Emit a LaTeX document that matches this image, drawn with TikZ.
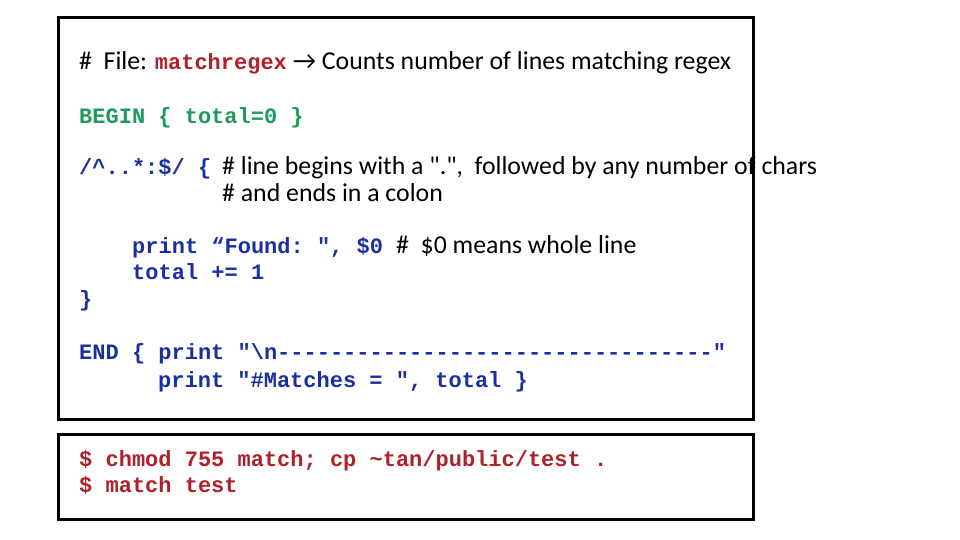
\documentclass[tikz,border=0pt]{standalone}
\usepackage{fontspec}
\setmainfont{Carlito}
\setmonofont{Liberation Mono}
\definecolor{cgreen}{HTML}{1E9A5A}
\definecolor{cblue}{HTML}{1A2FA0}
\definecolor{cred}{HTML}{B0202A}
\begin{document}
\begin{tikzpicture}[x=1bp,y=-1bp,
  t/.style={anchor=base west,inner sep=0pt,font=\fontsize{25.8bp}{30bp}\selectfont},
  m/.style={anchor=base west,inner sep=0pt,font=\fontsize{22bp}{26bp}\selectfont\ttfamily\bfseries},
  box/.style={draw,line width=3bp}]
\useasboundingbox (0,0) rectangle (960,540);
\draw[box] (58,18) rectangle (753,419);
\draw[box] (58,434) rectangle (753,519);
\node[t] (h) at (79,70) {\#\ \ File: {\fontsize{22bp}{26bp}\selectfont\ttfamily\bfseries\color{cred}matchregex} → Counts number of lines matching regex};
\node[m,cgreen] (b) at (79,124) {BEGIN \{ total=0 \}};
\node[m,cblue] (r) at (79,175) {/\textasciicircum..*:\$/ \{};
\node[t] (c1) at (222,175) {\# line begins with a \textquotedbl.\textquotedbl,\ \ followed by any number of chars};
\node[t] (c2) at (222,202) {\# and ends in a colon};
\node[m,cblue] (p) at (132,254) {print “Found: ", \$0};
\node[t] (c3) at (396,254) {\#\ \ \$0 means whole line};
\node[m,cblue] (tt) at (132,280) {total += 1};
\node[m,cblue] (cb) at (79,307) {\}};
\node[m,cblue] (e1) at (79,360) {END \{ print "\textbackslash n---------------------------------"};
\node[m,cblue] (e2) at (158,387) {print "\#Matches = ", total \}};
\node[m,cred] (s1) at (79,466) {\$ chmod 755 match; cp \textasciitilde tan/public/test .};
\node[m,cred] (s2) at (79,492) {\$ match test};
\end{tikzpicture}
\end{document}
